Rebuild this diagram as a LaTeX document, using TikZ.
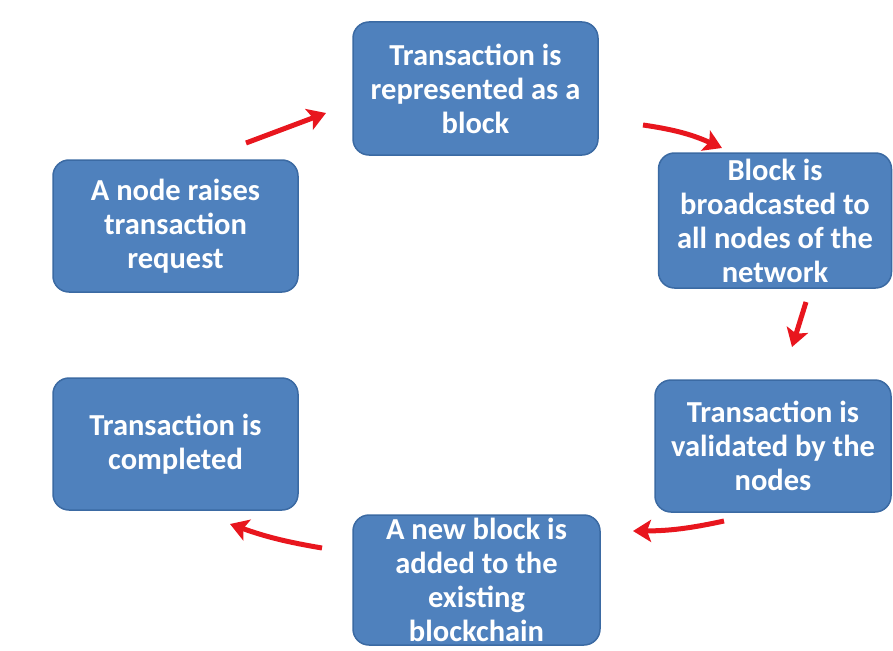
\documentclass[tikz,border=0pt]{standalone}
\usepackage{fontspec}
\setmainfont{Carlito}
\usetikzlibrary{arrows.meta}
\definecolor{boxblue}{HTML}{4F81BD}
\definecolor{boxedge}{HTML}{3B6AA3}
\definecolor{arrred}{HTML}{E8161E}
\tikzset{
  stepbox/.style={draw=boxedge, line width=1.5pt, fill=boxblue, rounded corners=16pt,
    text=white, align=center, inner sep=0pt,
    font=\fontsize{30.5}{34}\selectfont\bfseries},
  flow/.style={draw=arrred, line width=5pt, -{Stealth[length=18pt,width=22pt,inset=4pt]}}
}
\begin{document}
\begin{tikzpicture}[x=1pt,y=-1pt]
\useasboundingbox (0,0) rectangle (893,650);
\node[stepbox, minimum width=245pt, minimum height=133pt] (b1) at (475.5,88.5) {Transaction is\\represented as a\\block};
\node[stepbox, minimum width=233pt, minimum height=135pt] (b2) at (775,220.5) {Block is\\broadcasted to\\all nodes of the\\network};
\node[stepbox, minimum width=236pt, minimum height=132pt] (b3) at (773,446) {Transaction is\\validated by the\\nodes};
\node[stepbox, minimum width=247pt, minimum height=130pt] (b4) at (476.5,580) {A new block is\\added to the\\existing\\blockchain};
\node[stepbox, minimum width=245pt, minimum height=132pt] (b5) at (175.5,444) {Transaction is\\completed};
\node[stepbox, minimum width=245pt, minimum height=132pt] (b6) at (175.5,226) {A node raises\\transaction\\request};
\coordinate (a1s) at (246,143); \coordinate (a1e) at (326,113);
\coordinate (a2s) at (643,125); \coordinate (a2e) at (722,148);
\coordinate (a3s) at (806,302); \coordinate (a3e) at (792,347);
\coordinate (a4s) at (724,521); \coordinate (a4e) at (633,531);
\coordinate (a5s) at (322,548); \coordinate (a5e) at (230,524);
\draw[flow] (a1s) -- (a1e);
\draw[flow] (a2s) to[bend left=8] (a2e);
\draw[flow] (a3s) -- (a3e);
\draw[flow] (a4s) to[bend left=6] (a4e);
\draw[flow] (a5s) to[bend left=5] (a5e);
\end{tikzpicture}
\end{document}
